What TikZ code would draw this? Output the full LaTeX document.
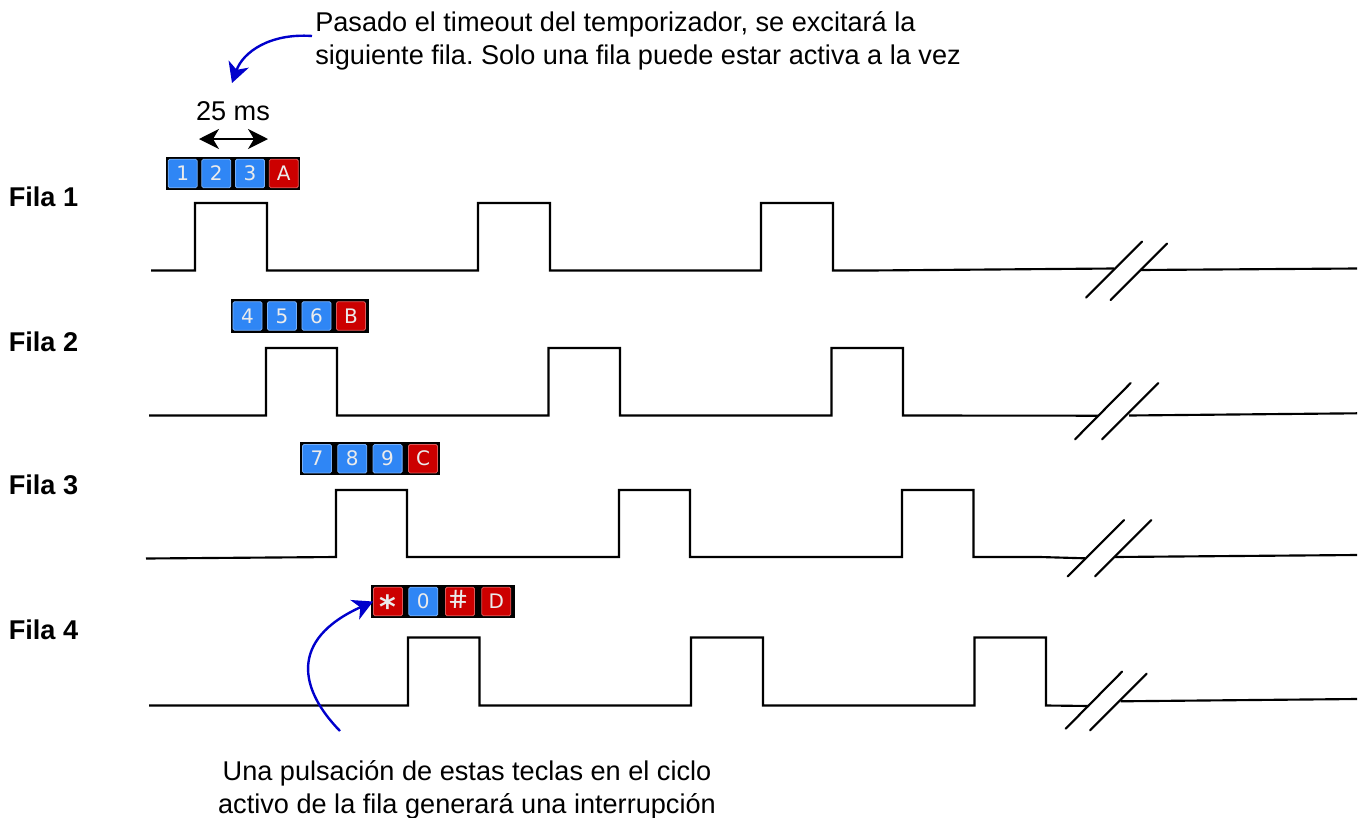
\documentclass[tikz,border=0pt]{standalone}
\usepackage{fontspec}
\setmainfont{Liberation Sans}
\newfontfamily\keyfont{DejaVu Sans}
\newfontfamily\hashfont[FakeSlant=-0.2]{DejaVu Sans}
\usetikzlibrary{arrows.meta}
\definecolor{keyblue}{HTML}{2F86F5}
\definecolor{keyred}{HTML}{CC0000}
\definecolor{arrowblue}{HTML}{0000CC}
\frenchspacing
\tikzset{
  x=0.75pt,y=-0.75pt,
  wave/.style={line width=1.6pt,black,line join=miter},
  slash/.style={line width=1.6pt,black,line cap=round},
  strip/.style={draw=none,fill=black,minimum height=25pt,inner sep=0pt},
  keycap/.style={rounded corners=1.2pt,draw=#1!65!white,line width=0.6pt,fill=#1,text=white!92!black,minimum width=21.8pt,minimum height=21.4pt,inner sep=0pt,font=\keyfont\fontsize{15}{15}\selectfont},
  rowlabel/.style={anchor=west,inner sep=0pt,font=\bfseries\fontsize{20.35}{24}\selectfont},
  note/.style={inner sep=0pt,font=\fontsize{20.35}{24.8}\selectfont,align=left},
  bluearrow/.style={line width=1.8pt,arrowblue,-{Stealth[length=15pt,width=16pt,inset=4.5pt]}},
  dimarrow/.style={line width=1.3pt,black,{Stealth[length=15pt,width=15pt,inset=4.5pt]}-{Stealth[length=15pt,width=15pt,inset=4.5pt]}}
}
\begin{document}
\begin{tikzpicture}
\useasboundingbox (0,0) rectangle (1365,818);
% texts
\node[note,anchor=north west] (topnote) at (315,11.2) {Pasado el timeout del temporizador, se excitará la\\siguiente fila. Solo una fila puede estar activa a la vez};
\node[note,align=center,anchor=north] (botnote) at (467,760.5) {Una pulsación de estas teclas en el ciclo\\activo de la fila generará una interrupción};
\node[inner sep=0pt,font=\fontsize{20.35}{24}\selectfont] (dur) at (233,111) {25 ms};
\node[rowlabel] (f1) at (8.5,197) {Fila 1};
\node[rowlabel] (f2) at (8.5,342) {Fila 2};
\node[rowlabel] (f3) at (8.5,485) {Fila 3};
\node[rowlabel] (f4) at (8.5,630) {Fila 4};
% key strips
\node[strip,minimum width=100.5pt] (s1) at (232.8,173.3) {};
\node[strip,minimum width=103.5pt] (s2) at (300,316) {};
\node[strip,minimum width=105pt] (s3) at (370,458.7) {};
\node[strip,minimum width=108pt] (s4) at (442.7,601.5) {};
% row 1
\node[keycap=keyblue] (k1) at (182.7,173.5) {1};
\node[keycap=keyblue] (k2) at (216.3,173.5) {2};
\node[keycap=keyblue] (k3) at (250,173.5) {3};
\node[keycap=keyred] (kA) at (283.8,173.5) {A};
% row 2
\node[keycap=keyblue] (k4) at (247.5,316) {4};
\node[keycap=keyblue] (k5) at (282,316) {5};
\node[keycap=keyblue] (k6) at (316.5,316) {6};
\node[keycap=keyred] (kB) at (351,316) {B};
% row 3
\node[keycap=keyblue] (k7) at (317,458.7) {7};
\node[keycap=keyblue] (k8) at (352.3,458.7) {8};
\node[keycap=keyblue] (k9) at (387.6,458.7) {9};
\node[keycap=keyred] (kC) at (423,458.7) {C};
% row 4
\node[keycap=keyred] (kS) at (388,601.5) {\smash{\raisebox{-13pt}{\fontsize{24}{24}\selectfont\bfseries *}}};
\node[keycap=keyblue] (k0) at (423.3,601.5) {0};
\node[keycap=keyred] (kH) at (460,601.5) {\raisebox{2.5pt}{\hashfont\fontsize{19}{19}\selectfont\#}};
\node[keycap=keyred] (kD) at (496.3,601.5) {D};
% waves
\draw[wave] (151,270.5) -- (195,270.5) -- (195,203) -- (267,203) -- (267,270.5) -- (478,270.5) -- (478,203) -- (550,203) -- (550,270.5) -- (761,270.5) -- (761,203) -- (833,203) -- (833,270.5) -- (870,270.5) -- (1114,268.5);
\draw[wave] (1140,270) -- (1357,268.5);
\draw[slash] (1086,297.7) -- (1142,241.7);
\draw[slash] (1110.7,300) -- (1167,243.7);
\draw[wave] (149,415.5) -- (266,415.5) -- (266,348) -- (337,348) -- (337,415.5) -- (548.5,415.5) -- (548.5,348) -- (620,348) -- (620,415.5) -- (831.5,415.5) -- (831.5,348) -- (903,348) -- (903,415.5) -- (1098,415.7);
\draw[wave] (1129,415.5) -- (1357,413.3);
\draw[slash] (1075,439.3) -- (1130.7,383);
\draw[slash] (1102,439.3) -- (1158.3,383);
\draw[wave] (146,558.5) -- (336,557) -- (336,490) -- (407,490) -- (407,557) -- (619,557) -- (619,490) -- (690,490) -- (690,557) -- (902,557) -- (902,490) -- (973.5,490) -- (973.5,557) -- (1040,557) -- (1085,558.3);
\draw[wave] (1115,557) -- (1357,555);
\draw[slash] (1067.7,576.3) -- (1124,520);
\draw[slash] (1095,576.3) -- (1151.3,520);
\draw[wave] (149,705.5) -- (408,705.5) -- (408,637.5) -- (479.5,637.5) -- (479.5,705.5) -- (691,705.5) -- (691,637.5) -- (763,637.5) -- (763,705.5) -- (974.5,705.5) -- (974.5,637.5) -- (1046,637.5) -- (1046,705.5) -- (1089,706);
\draw[wave] (1120.7,701.3) -- (1357,699);
\draw[slash] (1065.7,728.7) -- (1122,671.7);
\draw[slash] (1090,730.3) -- (1146.7,673.7);
% arrows
\coordinate (a1s) at (312,36);
\coordinate (a1e) at (232,83);
\draw[bluearrow] (a1s) .. controls (270,33) and (243,52) .. (a1e);
\coordinate (a2s) at (340,731);
\draw[bluearrow] (a2s) .. controls (300,690) and (288,640) .. (kS.west);
\coordinate (d1) at (199,139);
\coordinate (d2) at (268,139);
\draw[dimarrow] (d1) -- (d2);
\end{tikzpicture}
\end{document}
